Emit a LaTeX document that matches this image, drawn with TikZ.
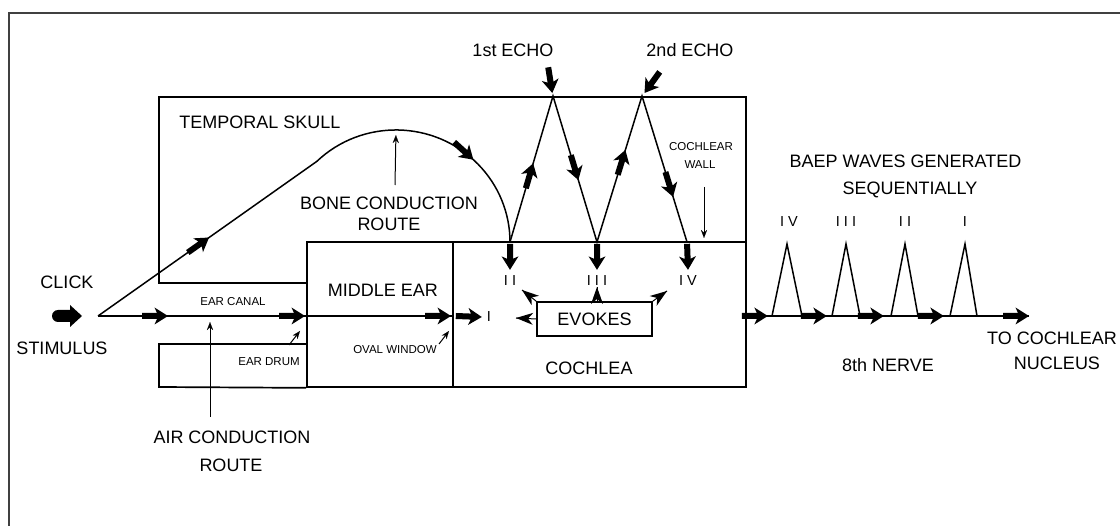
\documentclass[tikz,border=0pt]{standalone}
\usepackage{fontspec}
\setmainfont{Liberation Sans}
\usetikzlibrary{arrows.meta,decorations.markings}
\begin{document}
\begin{tikzpicture}[x=1pt,y=-1pt,
  bx/.style={line width=1.7pt},
  ln/.style={line width=1.5pt},
  fine/.style={line width=1pt,-{Stealth[length=8pt,width=6pt,line width=0.1pt]}},
  tipat/.style={postaction={decorate,decoration={markings,mark=at position #1 with {\fill (-26pt,-3pt) -- (-11pt,-3pt) -- (-13.5pt,-8.5pt) -- (0pt,0pt) -- (-13.5pt,8.5pt) -- (-11pt,3pt) -- (-26pt,3pt) -- cycle;}}}},
  clickgly/.style={postaction={decorate,decoration={markings,mark=at position 1 with {\fill (-24pt,-6pt) -- (-12pt,-6pt) -- (-12pt,-11pt) -- (0pt,0pt) -- (-12pt,11pt) -- (-12pt,6pt) -- (-24pt,6pt) arc[start angle=90,end angle=270,radius=6pt] -- cycle;}}}},
  horngly/.style={postaction={decorate,decoration={markings,mark=at position 1 with {\fill (0pt,0pt) -- (-17pt,-6pt) -- (-12pt,0pt) -- (-17pt,6pt) -- cycle;}}}},
  big/.style={font=\fontsize{18}{20}\selectfont,inner sep=0pt},
  sm/.style={font=\fontsize{11.5}{13}\selectfont,inner sep=0pt},
  rn/.style={font=\fontsize{14.5}{16}\selectfont,inner sep=0pt},
]
\useasboundingbox (0,0) rectangle (1120,526);
% frame
\draw[line width=1.3pt, black!75] (9,526) -- (9,13) -- (1120,13);

% boxes
\draw[bx] (307,283) -- (159,283) -- (159,97) -- (746,97) -- (746,242);
\node[draw,bx,minimum width=146,minimum height=145,inner sep=0pt] (me) at (380,314.5) {};
\node[draw,bx,minimum width=293,minimum height=145,inner sep=0pt] (co) at (599.5,314.5) {};
\draw[bx] (me.west |- 0,344) -- (159,344) -- (159,387) -- (me.south west);

% key points
\coordinate (src) at (98,316);
\coordinate (join) at (316.8,161.4);
\coordinate (peak) at (396,130);
\coordinate (v1) at (510,242);
\coordinate (p1) at (553,96);
\coordinate (v2) at (597,242);
\coordinate (p2) at (642,96);
\coordinate (v3) at (687,242);

% bone conduction route
\draw[ln,tipat=136pt,tipat=440pt] (src) -- (join) arc[start angle=226,end angle=360,x radius=114,y radius=112];
\draw[ln,tipat=82pt,tipat=240pt,tipat=401pt,tipat=563pt] (v1) -- (p1) -- (v2) -- (p2) -- (v3);

% air conduction main line
\draw[ln,tipat=70pt,tipat=207pt,tipat=353pt] (src) -- (me.east |- src);

% click
\node[big] (click) at (67,282) {CLICK};
\node[big] (stim) at (62,348) {STIMULUS};
\coordinate (ck) at (57,316);
\coordinate (ckE) at (82,316);
\path[clickgly] (ck) -- (ckE);

% labels left
\node[big] (ts) at (260,122) {TEMPORAL SKULL};
\node[big] (bc) at (389,203) {BONE CONDUCTION};
\node[big] (bcr) at (389,224) {ROUTE};
\coordinate (bca) at (395,185);
\draw[fine,shorten >=5pt] (bca) -- (peak);
\node[big] (mid) at (383,290) {MIDDLE EAR};
\node[sm] (ow) at (395,350) {OVAL WINDOW};
\coordinate (owa) at (439,344);
\coordinate (owb) at (449,331);
\draw[fine] (owa) -- (owb);
\node[sm] (ec) at (233,302) {EAR CANAL};
\node[sm] (ed) at (269,362) {EAR DRUM};
\coordinate (eda) at (289,345);
\coordinate (edb) at (300,331);
\draw[fine] (eda) -- (edb);
\node[big] (ac) at (232,437) {AIR CONDUCTION};
\node[big] (ac2) at (231,465) {ROUTE};
\coordinate (aca) at (210,417);
\coordinate (acb) at (210,322);
\draw[fine] (aca) -- (acb);

% echoes
\node[big] (e1) at (513,50) {1st ECHO};
\node[big] (e2) at (690,50) {2nd ECHO};
\coordinate (e1s) at (548,66);
\coordinate (e2s) at (664,66);
\coordinate (e1t) at (552.3,93);
\coordinate (e2t) at (644.5,93);
\path[tipat=1] (e1s) -- (e1t);
\path[tipat=1] (e2s) -- (e2t);
\node[sm] (cw1) at (701,147) {COCHLEAR};
\node[sm] (cw2) at (700,165) {WALL};
\coordinate (cwa) at (704,187);
\coordinate (cwb) at (704,238);
\draw[fine] (cwa) -- (cwb);

% cochlea
\node[rn] (nII) at (510,281) {I I};
\node[rn] (nIII) at (597,281) {I I I};
\node[rn] (nIV) at (688,281) {I V};
\path[tipat=1] (v1) -- ([yshift=6pt]nII.north);
\path[tipat=1] (v2) -- ([yshift=6pt]nIII.north);
\path[tipat=1] (v3) -- ([yshift=6pt]nIV.north);
\node[rn] (nI) at (489,317) {I};
\coordinate (iS) at (456,316);
\path[tipat=1] (iS) -- ([xshift=-5pt]nI.west);
\node[draw,bx,big,minimum width=115,minimum height=34] (ev) at (594.5,319) {EVOKES};
\coordinate (hL) at (516,318);
\coordinate (hTL) at (522,290);
\coordinate (hTM) at (597,287);
\coordinate (hTR) at (667,291);
\draw[line width=1pt,horngly] (ev.west) -- (hL);
\draw[line width=1pt,horngly] (ev.north west) -- (hTL);
\draw[line width=1pt,horngly] ([xshift=2.5pt]ev.north) -- (hTM);
\draw[line width=1pt,horngly] (ev.north east) -- (hTR);
\node[big] (coch) at (589,368) {COCHLEA};

% nerve
\coordinate (nEnd) at (1029,316);
\draw[ln,tipat=21pt,tipat=80pt,tipat=137pt,tipat=197pt,tipat=1] (co.east |- src) -- (nEnd);
\coordinate (a4) at (787,244);
\coordinate (a3) at (846,244);
\coordinate (a2) at (905,244);
\coordinate (a1) at (965,244);
\draw[ln] (772,316) -- (a4) -- (802,316);
\draw[ln] (832,316) -- (a3) -- (860,316);
\draw[ln] (891,316) -- (a2) -- (918,316);
\draw[ln] (950,316) -- (a1) -- (977,316);
\node[rn] (w4) at (789,222) {I V};
\node[rn] (w3) at (846,222) {I I I};
\node[rn] (w2) at (905,222) {I I};
\node[rn] (w1) at (965,222) {I};
\node[big] (baep) at (905.5,161) {BAEP WAVES GENERATED};
\node[big] (seq) at (910,190) {SEQUENTIALLY};
\node[big] (nerve) at (888,365) {8th NERVE};
\node[big] (toc) at (1052,338) {TO COCHLEAR};
\node[big] (nuc) at (1057,363) {NUCLEUS};
\end{tikzpicture}
\end{document}
